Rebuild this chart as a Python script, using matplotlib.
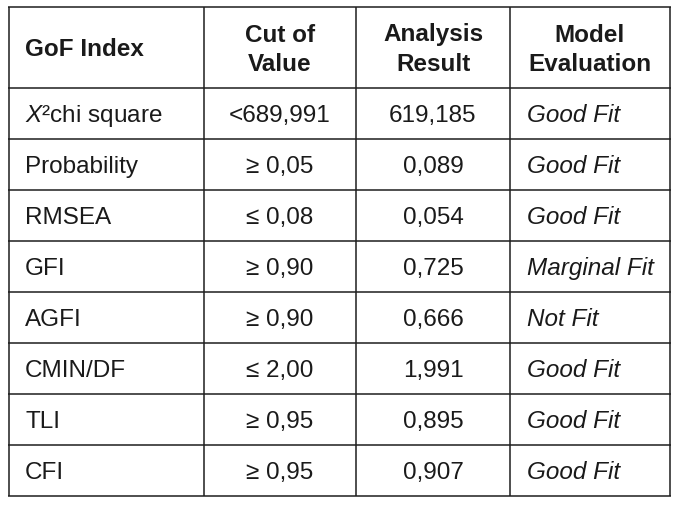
import matplotlib
matplotlib.use("Agg")
import matplotlib.pyplot as plt

plt.rcParams['font.family'] = ['Liberation Sans', 'DejaVu Sans']
plt.rcParams['mathtext.fontset'] = 'custom'
plt.rcParams['mathtext.rm'] = 'Liberation Sans'
plt.rcParams['mathtext.it'] = 'Liberation Sans:italic'

# ---- data ----
headers = ["GoF Index", "Cut of\nValue", "Analysis\nResult", "Model\nEvaluation"]
gof_index = ["$X$²chi square", "Probability", "RMSEA", "GFI", "AGFI", "CMIN/DF", "TLI", "CFI"]
cut_off = ["<689,991", "≥ 0,05", "≤ 0,08", "≥ 0,90", "≥ 0,90", "≤ 2,00", "≥ 0,95", "≥ 0,95"]
analysis_result = ["619,185", "0,089", "0,054", "0,725", "0,666", "1,991", "0,895", "0,907"]
model_evaluation = ["Good Fit", "Good Fit", "Good Fit", "Marginal Fit", "Not Fit", "Good Fit", "Good Fit", "Good Fit"]

# ---- layout (pixels) ----
W, H = 681, 507
col_x = [9, 204, 356, 510, 670]
top, header_bottom, row_h = 7, 88, 51
n = len(gof_index)
line_color = "#1e1e1e"
text_color = "#1a1a1a"
fs = 17.5

fig = plt.figure(figsize=(W / 100, H / 100), dpi=100)
ax = fig.add_axes([0, 0, 1, 1])
ax.set_xlim(0, W)
ax.set_ylim(H, 0)
ax.axis("off")

row_edges = [top, header_bottom] + [header_bottom + row_h * (i + 1) for i in range(n)]
bottom = row_edges[-1]

# grid lines
for y in row_edges:
    ax.plot([col_x[0] - 1, col_x[-1] + 1], [y, y], color=line_color, lw=1.1, solid_capstyle="butt")
for x in col_x:
    ax.plot([x, x], [top, bottom], color=line_color, lw=1.1, solid_capstyle="butt")

# headers
ax.text(25, 56.5, headers[0], fontsize=fs, fontweight="bold", color=text_color, ha="left", va="baseline")
for j, h in enumerate(headers[1:], start=1):
    cx = (col_x[j] + col_x[j + 1]) / 2
    l1, l2 = h.split("\n")
    ax.text(cx, 41.5, l1, fontsize=fs, fontweight="bold", color=text_color, ha="center", va="baseline")
    ax.text(cx, 71, l2, fontsize=fs, fontweight="bold", color=text_color, ha="center", va="baseline")

# body
for i in range(n):
    yc = header_bottom + row_h * i + row_h / 2
    yb = yc + 8.8
    ax.text(25, yb, gof_index[i], fontsize=fs, color=text_color, ha="left", va="baseline")
    ax.text((col_x[1] + col_x[2]) / 2, yb, cut_off[i], fontsize=fs, color=text_color, ha="center", va="baseline")
    ax.text((col_x[2] + col_x[3]) / 2, yb, analysis_result[i], fontsize=fs, color=text_color, ha="center", va="baseline")
    ax.text(527, yb, model_evaluation[i], fontsize=fs, style="italic", color=text_color, ha="left", va="baseline")

fig.savefig("out.png", dpi=100)
